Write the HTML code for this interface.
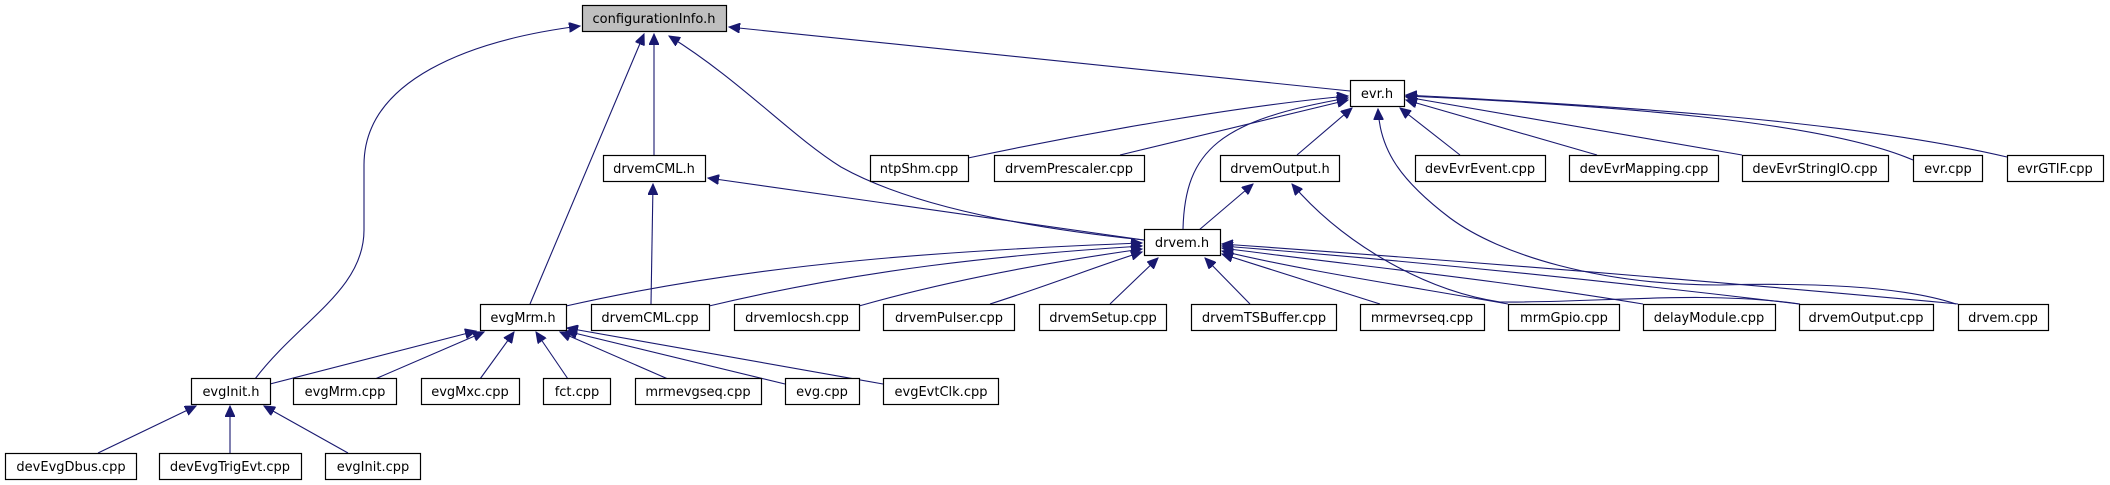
<!DOCTYPE html>
<html><head><meta charset="utf-8"><style>
html,body{margin:0;padding:0;background:#fff;}
svg{display:block}
text{font-family:"DejaVu Sans","Liberation Sans",sans-serif;font-size:13px;fill:#000;text-anchor:middle}
.b{fill:#fff;stroke:#000;stroke-width:1.2}
.e{fill:none;stroke:#191970;stroke-width:1.1}
</style></head><body>
<svg width="2110" height="485" viewBox="0 0 2110 485" xmlns="http://www.w3.org/2000/svg">
<defs><marker id="a" markerUnits="userSpaceOnUse" markerWidth="12" markerHeight="10" refX="11" refY="5" orient="auto"><path d="M0,0 L11,5 L0,10 z" fill="#191970" stroke="#191970"/></marker></defs>
<g class="e" marker-end="url(#a)">
<!-- to configurationInfo.h -->
<path d="M255,379 C300,320 364,290 364,230 L364,165 C364,80 470,40 580,26"/>
<path d="M530,304 L644,34"/>
<path d="M654,155 L654,34"/>
<path d="M1144,240 C1000,225 900,200 841,167 C790,135 740,80 669,36"/>
<path d="M1350,91 L729,27"/>
<!-- to drvemCML.h -->
<path d="M1144,240 L708,178"/>
<path d="M651,304 L653,184"/>
<!-- to evr.h -->
<path d="M968,158 C1100,130 1250,105 1348,96"/>
<path d="M1120,155 L1348,100"/>
<path d="M1183,229 C1185,150 1220,120 1348,98"/>
<path d="M1297,155 L1352,108"/>
<path d="M1460,155 L1400,108"/>
<path d="M1597,155 L1406,100"/>
<path d="M1742,155 L1406,97"/>
<path d="M1913,160 C1820,120 1600,105 1406,96"/>
<path d="M2007,157 C1850,120 1600,105 1406,95"/>
<path d="M1956,304 C1900,285 1800,283 1720,285 C1600,285 1500,255 1450,218 C1400,180 1380,150 1378,109"/>
<!-- to drvemOutput.h -->
<path d="M1199,230 L1253,184"/>
<path d="M1800,304 C1700,290 1600,303 1500,302 C1420,290 1340,240 1292,184"/>
<!-- to drvem.h -->
<path d="M566,306 C760,262 960,250 1142,243"/>
<path d="M709,306 C860,270 1000,255 1142,246"/>
<path d="M859,306 C950,280 1050,262 1142,249"/>
<path d="M990,304 C1050,285 1100,265 1142,252"/>
<path d="M1110,304 L1158,258"/>
<path d="M1250,304 L1205,258"/>
<path d="M1380,304 L1222,254"/>
<path d="M1508,304 C1400,285 1300,270 1222,251"/>
<path d="M1643,304 C1500,280 1350,265 1222,248"/>
<path d="M1799,304 C1600,280 1400,260 1222,246"/>
<path d="M1958,304 C1700,280 1450,260 1222,244"/>
<!-- to evgMrm.h -->
<path d="M270,384 L476,331"/>
<path d="M375,379 L484,332"/>
<path d="M480,379 L514,332"/>
<path d="M568,379 L536,332"/>
<path d="M668,379 L560,332"/>
<path d="M785,384 L566,331"/>
<path d="M883,384 L567,328"/>
<!-- to evgInit.h -->
<path d="M98,453 L196,406"/>
<path d="M230,453 L230,406"/>
<path d="M348,453 L264,406"/>
</g>
<g>
<rect x="582.5" y="5.5" width="144" height="26" fill="#bfbfbf" stroke="#000" stroke-width="1.2"/><text x="654" y="23">configurationInfo.h</text>
<rect class="b" x="603.5" y="155.5" width="102" height="26"/><text x="654" y="173">drvemCML.h</text>
<rect class="b" x="870.5" y="155.5" width="98" height="26"/><text x="919" y="173">ntpShm.cpp</text>
<rect class="b" x="994.5" y="155.5" width="150" height="26"/><text x="1069" y="173">drvemPrescaler.cpp</text>
<rect class="b" x="1350.5" y="80.5" width="54" height="26"/><text x="1377" y="98">evr.h</text>
<rect class="b" x="1220.5" y="155.5" width="119" height="26"/><text x="1280" y="173">drvemOutput.h</text>
<rect class="b" x="1415.5" y="155.5" width="130" height="26"/><text x="1480" y="173">devEvrEvent.cpp</text>
<rect class="b" x="1569.5" y="155.5" width="149" height="26"/><text x="1644" y="173">devEvrMapping.cpp</text>
<rect class="b" x="1742.5" y="155.5" width="146" height="26"/><text x="1815" y="173">devEvrStringIO.cpp</text>
<rect class="b" x="1913.5" y="155.5" width="69" height="26"/><text x="1948" y="173">evr.cpp</text>
<rect class="b" x="2007.5" y="155.5" width="96" height="26"/><text x="2055" y="173">evrGTIF.cpp</text>
<rect class="b" x="1144.5" y="229.5" width="76" height="26"/><text x="1182" y="247">drvem.h</text>
<rect class="b" x="480.5" y="304.5" width="86" height="26"/><text x="523" y="322">evgMrm.h</text>
<rect class="b" x="591.5" y="304.5" width="118" height="26"/><text x="650" y="322">drvemCML.cpp</text>
<rect class="b" x="734.5" y="304.5" width="125" height="26"/><text x="797" y="322">drvemIocsh.cpp</text>
<rect class="b" x="883.5" y="304.5" width="131" height="26"/><text x="949" y="322">drvemPulser.cpp</text>
<rect class="b" x="1039.5" y="304.5" width="127" height="26"/><text x="1103" y="322">drvemSetup.cpp</text>
<rect class="b" x="1191.5" y="304.5" width="145" height="26"/><text x="1264" y="322">drvemTSBuffer.cpp</text>
<rect class="b" x="1360.5" y="304.5" width="124" height="26"/><text x="1422" y="322">mrmevrseq.cpp</text>
<rect class="b" x="1508.5" y="304.5" width="111" height="26"/><text x="1564" y="322">mrmGpio.cpp</text>
<rect class="b" x="1643.5" y="304.5" width="132" height="26"/><text x="1709" y="322">delayModule.cpp</text>
<rect class="b" x="1799.5" y="304.5" width="134" height="26"/><text x="1866" y="322">drvemOutput.cpp</text>
<rect class="b" x="1958.5" y="304.5" width="90" height="26"/><text x="2003" y="322">drvem.cpp</text>
<rect class="b" x="191.5" y="378.5" width="79" height="26"/><text x="231" y="396">evgInit.h</text>
<rect class="b" x="293.5" y="378.5" width="103" height="26"/><text x="345" y="396">evgMrm.cpp</text>
<rect class="b" x="421.5" y="378.5" width="98" height="26"/><text x="470" y="396">evgMxc.cpp</text>
<rect class="b" x="543.5" y="378.5" width="67" height="26"/><text x="577" y="396">fct.cpp</text>
<rect class="b" x="635.5" y="378.5" width="126" height="26"/><text x="698" y="396">mrmevgseq.cpp</text>
<rect class="b" x="785.5" y="378.5" width="74" height="26"/><text x="822" y="396">evg.cpp</text>
<rect class="b" x="883.5" y="378.5" width="115" height="26"/><text x="941" y="396">evgEvtClk.cpp</text>
<rect class="b" x="5.5" y="453.5" width="131" height="26"/><text x="71" y="471">devEvgDbus.cpp</text>
<rect class="b" x="159.5" y="453.5" width="142" height="26"/><text x="230" y="471">devEvgTrigEvt.cpp</text>
<rect class="b" x="325.5" y="453.5" width="95" height="26"/><text x="373" y="471">evgInit.cpp</text>
</g>
</svg>
</body></html>
